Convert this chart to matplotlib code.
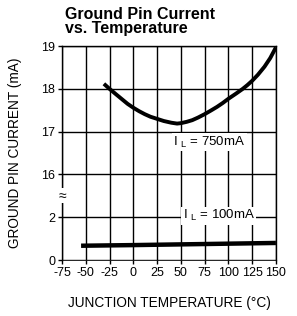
import matplotlib
matplotlib.use('Agg')
import matplotlib.pyplot as plt
import matplotlib.transforms as mtransforms
import numpy as np

plt.rcParams['font.family'] = ['Liberation Sans', 'DejaVu Sans']
plt.rcParams['mathtext.fontset'] = 'custom'
plt.rcParams['mathtext.rm'] = 'Liberation Sans'
plt.rcParams['mathtext.it'] = 'Liberation Sans'

# junction temperature (C) and ground pin current (mA)
temp_750 = [-31, -25, -18, -12, -6, 0, 6, 12, 18, 25, 32, 40, 46, 50, 56, 62, 68,
            75, 82, 88, 94, 100, 108, 115, 120, 125, 131, 138, 144, 150]
ig_750 = [18.12, 18.0, 17.87, 17.76, 17.65, 17.56, 17.48, 17.41, 17.35, 17.3, 17.25,
          17.21, 17.19, 17.2, 17.23, 17.27, 17.33, 17.41, 17.5, 17.58, 17.67, 17.77,
          17.89, 18.0, 18.09, 18.19, 18.33, 18.52, 18.72, 18.97]

temp_100 = [-55, 0, 75, 150]
ig_100 = [0.67, 0.7, 0.75, 0.8]

x_ticks = [-75, -50, -25, 0, 25, 50, 75, 100, 125, 150]
y_ticks = [0, 2, 16, 17, 18, 19]


def broken_axis(v):
    # 0..2 mA squeezed into one step, then 16..19 one step per mA
    v = np.asarray(v, dtype=float)
    return np.where(v <= 2, v / 2.0, v - 14.0)


fig = plt.figure(figsize=(2.97, 3.16), dpi=100)
ax = fig.add_axes([0.209, 0.177, 0.72, 0.677])

ax.plot(temp_750, broken_axis(ig_750), color='black', lw=2.8,
        solid_capstyle='butt', solid_joinstyle='round')
ax.plot(temp_100, broken_axis(ig_100), color='black', lw=3.2, solid_capstyle='butt')

ax.set_xlim(-75, 150)
ax.set_ylim(0, 5)
ax.set_xticks(x_ticks)
ax.set_xticklabels([str(t) for t in x_ticks])
ax.set_yticks(broken_axis(y_ticks))
ax.set_yticklabels([str(t) for t in y_ticks])
ax.tick_params(axis='both', labelsize=9, length=3, width=1.0, pad=2, color='black')

ax.grid(True, color='black', lw=1.0)
for s in ax.spines.values():
    s.set_linewidth(1.0)
ax.spines['bottom'].set_linewidth(0.6)

# break marker on the left axis
trans = mtransforms.blended_transform_factory(ax.transAxes, ax.transData)
ax.text(0.0, 1.5, '≈', transform=trans, ha='center', va='center',
        fontsize=10, bbox=dict(facecolor='white', edgecolor='none', pad=0.3), zorder=5,
        clip_on=False)

box = dict(facecolor='white', edgecolor='none', pad=1)
ax.text(42, 2.75, r'I $_{\mathrm{L}}$ = 750mA', fontsize=9.5, ha='left', va='center', bbox=box, zorder=4)
ax.text(52, 1.04, r'I $_{\mathrm{L}}$ = 100mA', fontsize=9.5, ha='left', va='center', bbox=box, zorder=4)

ax.set_xlabel('JUNCTION TEMPERATURE (°C)', fontsize=9.8, labelpad=12)
ax.set_ylabel('GROUND PIN CURRENT (mA)', fontsize=9.8, labelpad=14)

fig.text(0.219, 0.978, 'Ground Pin Current\nvs. Temperature', fontsize=11.5,
         fontweight='bold', ha='left', va='top', linespacing=0.95)

fig.savefig('out.png', dpi=100)
